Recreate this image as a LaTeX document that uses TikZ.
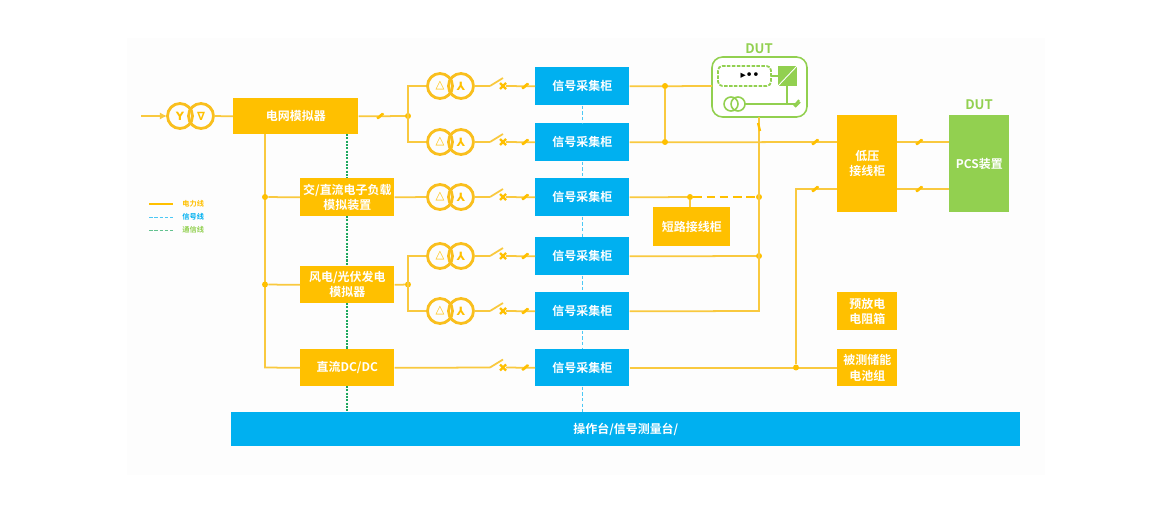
\documentclass[tikz,border=0pt]{standalone}
\usepackage{fontspec}
\setmainfont{Noto Sans CJK SC}[BoldFont={* Bold}]
\newfontfamily\symfont{DejaVu Sans Bold}
\usetikzlibrary{calc}
\usetikzlibrary{arrows.meta}
\definecolor{powerc}{HTML}{FFC000}
\definecolor{wirec}{HTML}{F9C93F}
\definecolor{coilc}{HTML}{F9BF1E}
\definecolor{signalc}{HTML}{00B0F0}
\definecolor{greenc}{HTML}{92D050}
\definecolor{commc}{HTML}{1FA85F}
\definecolor{paperc}{HTML}{FDFDFD}
\tikzset{
    powerbox/.style={fill=powerc, text=white, font=\fontsize{6.8pt}{8.6pt}\selectfont\bfseries, align=center, inner sep=0pt, anchor=north west},
    signalbox/.style={powerbox, fill=signalc},
    pcsbox/.style={powerbox, fill=greenc},
    wire/.style={wirec, line width=1pt},
    signalwire/.style={signalc!70, line width=0.6pt, dash pattern=on 2pt off 1.2pt},
    commwire/.style={commc, line width=1pt, dash pattern=on 1.2pt off 0.7pt},
    dutwire/.style={greenc, line width=0.9pt},
    dutlabel/.style={text=greenc, font=\fontsize{7.5pt}{9pt}\selectfont\bfseries, inner sep=0pt},
    coil/.style={coilc, line width=1.6pt},
    coilmark/.style={text=powerc, font=\fontsize{6.5pt}{7pt}\selectfont\symfont, inner sep=0pt},
    junction/.style={circle, fill=powerc, inner sep=0pt, minimum size=3.4pt},
    legendtext/.style={font=\fontsize{4.1pt}{5pt}\selectfont\bfseries, inner sep=0pt},
}
% one transformer, #1 is the centre, #2 and #3 the winding marks
\newcommand{\xfmr}[3]{
    \draw[coil] ($(#1)+(-10.5,0)$) circle[radius=12.5];
    \draw[coil] ($(#1)+(10.5,0)$) circle[radius=12.5];
    \node[coilmark] at ($(#1)+(-10.5,0)$) {#2};
    \node[coilmark] at ($(#1)+(10.5,0)$) {#3};
}
% break mark on a line
\newcommand{\slashmark}[1]{
    \draw[powerc, line width=1.1pt] ($(#1)+(-3,2.5)$) -- ($(#1)+(2.5,-2.5)$);
    \draw[powerc, line width=1.1pt] ($(#1)+(-2,2.5)$) -- ($(#1)+(3.5,-2.5)$);
}
% switch and cross, starts at #1
\newcommand{\breaker}[1]{
    \draw[wire] (#1) -- ++(13,-8);
    \draw[powerc, line width=1.3pt] ($(#1)+(10,-3)$) -- ($(#1)+(16,3)$);
    \draw[powerc, line width=1.3pt] ($(#1)+(10,3)$) -- ($(#1)+(16,-3)$);
}
\begin{document}
\begin{tikzpicture}[x=0.02cm, y=-0.02cm]
    \useasboundingbox (0, 0) rectangle (1172, 510);
    \fill[paperc] (127, 38) rectangle (1045, 475);

    \coordinate (INA) at (141, 116);
    \coordinate (T0) at (190.5, 116);

    % boxes
    \node[powerbox, minimum width=125*0.02cm, minimum height=36*0.02cm] (grid) at (233, 98) {电网模拟器};
    \node[powerbox, minimum width=94*0.02cm, minimum height=38*0.02cm] (load) at (300, 178) {交/直流电子负载\\模拟装置};
    \node[powerbox, minimum width=94*0.02cm, minimum height=37*0.02cm] (wind) at (300, 266) {风电/光伏发电\\模拟器};
    \node[powerbox, minimum width=94*0.02cm, minimum height=37*0.02cm] (dcdc) at (300, 349) {直流DC/DC};
    \foreach \n/\y in {1/67, 2/123, 3/178, 4/237, 5/292} {
        \node[signalbox, minimum width=94*0.02cm, minimum height=38*0.02cm] (cab\n) at (535, \y) {信号采集柜};
    }
    \node[signalbox, minimum width=94*0.02cm, minimum height=37*0.02cm] (cab6) at (535, 349) {信号采集柜};
    \node[powerbox, minimum width=77*0.02cm, minimum height=39*0.02cm] (short) at (653, 207) {短路接线柜};
    \node[powerbox, minimum width=60*0.02cm, minimum height=97*0.02cm] (lowv) at (837, 115) {低压\\接线柜};
    \node[pcsbox, minimum width=60*0.02cm, minimum height=97*0.02cm] (pcs) at (949, 115) {PCS装置};
    \node[powerbox, minimum width=60*0.02cm, minimum height=38*0.02cm] (res) at (837, 292) {预放电\\电阻箱};
    \node[powerbox, minimum width=60*0.02cm, minimum height=37*0.02cm] (batt) at (837, 349) {被测储能\\电池组};
    \node[signalbox, minimum width=789*0.02cm, minimum height=34*0.02cm] (desk) at (231, 412) {操作台/信号测量台/};
    \node[dutlabel] (dutb) at (979, 105) {DUT};

    % comm and signal lines
    \draw[commwire] (347, 134) -- (347, 178);
    \draw[commwire] (347, 216) -- (347, 266);
    \draw[commwire] (347, 303) -- (347, 349);
    \draw[commwire] (347, 386) -- (347, 412);
    \foreach \a/\b in {1/2, 2/3, 3/4, 4/5, 5/6} {
        \draw[signalwire] (cab\a.south) -- (cab\b.north);
    }
    \draw[signalwire] (cab6.south) -- (cab6.south |- desk.north);

    % input side
    \draw[wire, -{Latex[length=4pt, width=4pt]}] (INA) -- (167, 116);
    \xfmr{T0}{Y}{∇}
    \draw[wire] (214, 116) -- (grid.west);
    \draw[wire] (grid.east) -- (408, 116);
    \slashmark{380, 116}
    \node[junction] (j0) at (408, 116) {};
    \draw[wire] (427, 86) -- (408, 86) -- (408, 142) -- (427, 142);

    % feeder to the simulators
    \draw[wire] (265, 134) -- (265, 367.5) -- (dcdc.west);
    \node[junction] (j1) at (265, 197) {};
    \node[junction] (j2) at (265, 284.5) {};
    \draw[wire] (j1) -- (load.west);
    \draw[wire] (j2) -- (wind.west);
    \draw[wire] (load.east) -- (427, 197);
    \draw[wire] (wind.east) -- (408, 284.5);
    \node[junction] (j3) at (408, 284.5) {};
    \draw[wire] (427, 256) -- (408, 256) -- (408, 311) -- (427, 311);
    \draw[wire] (dcdc.east) -- (490, 367.5);

    % transformers to cabinets
    \foreach \n/\y in {1/86, 2/142, 3/197, 4/256, 5/311} {
        \coordinate (T\n) at (450.5, \y);
        \xfmr{T\n}{△}{⅄}
        \draw[wire] (474, \y) -- (490, \y);
        \breaker{490, \y}
        \draw[wire] (506, \y) -- (cab\n.west);
        \slashmark{525, \y}
    }
    \breaker{490, 367.5}
    \draw[wire] (506, 367.5) -- (cab6.west);
    \slashmark{525, 367.5}

    % DUT
    \node[dutlabel] (duta) at (759, 49) {DUT};
    \draw[dutwire, rounded corners=6pt, fill=white] (712, 57) rectangle (807, 117);
    \draw[dutwire, line width=1pt, dash pattern=on 2pt off 0.8pt, rounded corners=2.5pt] (718, 66) rectangle (771, 86);
    \node[font=\fontsize{6pt}{6pt}\selectfont\symfont, inner sep=0pt] (dots) at (750, 75.5) {▸••};
    \draw[dutwire] (771, 76) -- (778, 76);
    \fill[greenc] (778, 66) rectangle (797, 86);
    \draw[white, line width=0.5pt] (778, 86) -- (797, 66);
    \draw[dutwire] (731, 104) circle[radius=7];
    \draw[dutwire] (738, 104) circle[radius=7];
    \draw[dutwire] (745, 104) -- (796, 104);
    \draw[dutwire] (787, 86) -- (787, 104);
    \draw[greenc, line width=1.1pt] (794, 106) -- (799, 100);
    \draw[greenc, line width=1.1pt] (795, 107) -- (800, 102);

    % cabinets to the right side
    \draw[wire] (cab1.east) -- (712, 86);
    \draw[wire] (cab2.east) -- (837, 142);
    \node[junction] (j4) at (665, 86) {};
    \node[junction] (j5) at (665, 142) {};
    \draw[wire] (j4) -- (j5);
    \slashmark{815, 142}
    \draw[wire] (cab3.east) -- (690, 197);
    \node[junction] (j6) at (690, 197) {};
    \draw[wire] (j6) -- (j6 |- short.north);
    \draw[powerc, line width=1.1pt, dash pattern=on 5pt off 2.5pt] (j6) -- (759, 197);
    \node[junction] (j7) at (759, 197) {};
    \draw[wire] (cab4.east) -- (759, 256);
    \node[junction] (j8) at (759, 256) {};
    \draw[wire] (cab5.east) -- (759, 311) -- (759, 117);
    \draw[powerc, line width=1.3pt] (758, 123) -- (760, 131);
    \draw[wire] (cab6.east) -- (batt.west);
    \node[junction] (j9) at (796, 367.5) {};
    \draw[wire] (j9) -- (796, 189) -- (837, 189);
    \slashmark{815, 189}
    \draw[wire] (897, 142) -- (949, 142);
    \draw[wire] (897, 189) -- (949, 189);
    \slashmark{919, 142}
    \slashmark{919, 189}

    % legend
    \coordinate (LA) at (149, 204);
    \draw[powerc, line width=1pt] (LA) -- ++(24, 0);
    \draw[signalc!70, line width=0.5pt, dash pattern=on 2pt off 1pt] (149, 217) -- ++(24, 0);
    \draw[commc!70, line width=0.5pt, dash pattern=on 2pt off 1pt] (149, 230) -- ++(24, 0);
    \node[legendtext, text=powerc, anchor=west] (leg1) at (182, 204) {电力线};
    \node[legendtext, text=signalc, anchor=west] (leg2) at (182, 217) {信号线};
    \node[legendtext, text=greenc, anchor=west] (leg3) at (182, 230) {通信线};
\end{tikzpicture}
\end{document}
